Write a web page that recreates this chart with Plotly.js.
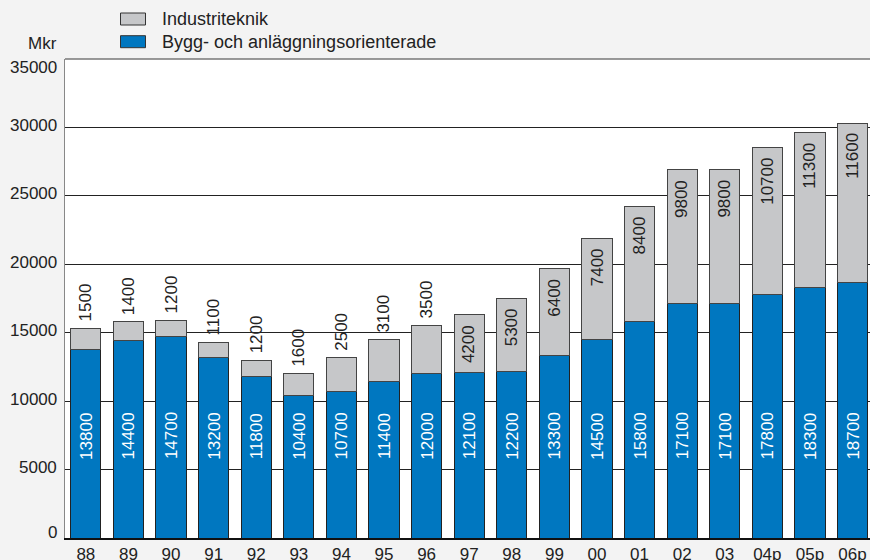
<!DOCTYPE html>
<html>
<head>
<meta charset="utf-8">
<script src="https://cdn.plot.ly/plotly-3.0.1.min.js"></script>
<style>html,body{margin:0;padding:0;background:#f3f3f3;}#chart{width:870px;height:560px;}</style>
</head>
<body>
<div id="chart"></div>
<script>
const years = ["88","89","90","91","92","93","94","95","96","97","98","99","00","01","02","03","04p","05p","06p"];
const bygg = [13800,14400,14700,13200,11800,10400,10700,11400,12000,12100,12200,13300,14500,15800,17100,17100,17800,18300,18700];
const industri = [1500,1400,1200,1100,1200,1600,2500,3100,3500,4200,5300,6400,7400,8400,9800,9800,10700,11300,11600];
const yTicks = [0,5000,10000,15000,20000,25000,30000,35000];
const seriesNames = ["Bygg- och anläggningsorienterade","Industriteknik"];

const FONT = "Liberation Sans, Arial, Helvetica, sans-serif";
const BLUE = "#0077c0";
const GRAY = "#c6c7c9";
const W = 870, H = 560, ML = 65, MR = 0, MT = 59, MB = 22;
const PW = W - ML - MR, PH = H - MT - MB;
const px = v => (v - ML) / PW;      // container px -> paper x
const py = v => (H - MB - v) / PH;  // container px -> paper y

const traces = [
  {type:"bar", name:seriesNames[0], x:years, y:bygg,
   marker:{color:BLUE, line:{color:"#222", width:1}}, hoverinfo:"skip"},
  {type:"bar", name:seriesNames[1], x:years, y:industri,
   marker:{color:GRAY, line:{color:"#444", width:1}}, hoverinfo:"skip"}
];

const annotations = [];
const labelLevel = 7450;
years.forEach((yr,i)=>{
  annotations.push({x:i, y:labelLevel, xref:"x", yref:"y", text:String(bygg[i]), textangle:-90,
    showarrow:false, font:{family:FONT, size:17, color:"#ffffff"}, xanchor:"center", yanchor:"middle"});
  const total = bygg[i] + industri[i];
  const inside = industri[i] >= 4000;
  annotations.push({x:i, y:total, xref:"x", yref:"y", text:String(industri[i]), textangle:-90,
    showarrow:false, font:{family:FONT, size:17, color:"#222"}, xanchor:"center",
    yanchor: inside ? "top" : "bottom", yshift: inside ? -8 : 5});
});
// y tick labels
const yMax = yTicks[yTicks.length-1];
yTicks.forEach(t=>{
  annotations.push({xref:"paper", yref:"y", x:px(59), y:t, xanchor:"right", yanchor:"middle",
    yshift: t === yMax ? -8 : (t === 0 ? 6 : 2), text:String(t), showarrow:false,
    font:{family:FONT, size:17, color:"#222"}});
});
// unit label
annotations.push({xref:"paper", yref:"paper", x:px(59), y:py(43.5), xanchor:"right", yanchor:"middle",
  text:"Mkr", showarrow:false, font:{family:FONT, size:17, color:"#222"}});

// custom legend (gray first, then blue)
const legendItems = [{name:seriesNames[1], color:GRAY, cy:19}, {name:seriesNames[0], color:BLUE, cy:41.7}];
const shapes = [{type:"line", xref:"paper", yref:"paper", x0:0, x1:1, y0:1, y1:1, line:{color:"#777", width:1.5}, layer:"above"}];
legendItems.forEach(it=>{
  shapes.push({type:"rect", xref:"paper", yref:"paper", x0:px(120.5), x1:px(145.5), y0:py(it.cy-6), y1:py(it.cy+6),
    fillcolor:it.color, line:{color:"#333", width:1}, layer:"above"});
  annotations.push({xref:"paper", yref:"paper", x:px(160), y:py(it.cy), xanchor:"left", yanchor:"middle",
    text:it.name, showarrow:false, font:{family:FONT, size:18, color:"#222"}});
});

const layout = {
  width:W, height:H,
  margin:{l:ML, r:MR, t:MT, b:MB, autoexpand:false},
  paper_bgcolor:"#f3f3f3", plot_bgcolor:"#ffffff",
  barmode:"stack", bargap:0.29,
  font:{family:FONT, size:17, color:"#222"},
  showlegend:false,
  xaxis:{type:"category", range:[-0.49, 18.41], showgrid:false, ticks:"", showline:true, tickangle:0,
    linecolor:"#111", linewidth:1.5, tickfont:{family:FONT, size:17, color:"#222"}, zeroline:false, fixedrange:true},
  yaxis:{range:[0,yMax], tickvals:yTicks, showticklabels:false, showgrid:true, gridcolor:"#222", gridwidth:1,
    showline:true, linecolor:"#888", linewidth:1.5, ticks:"", zeroline:false, fixedrange:true},
  annotations: annotations,
  shapes: shapes
};

Plotly.newPlot("chart", traces, layout, {displayModeBar:false, staticPlot:true});
</script>
</body>
</html>
